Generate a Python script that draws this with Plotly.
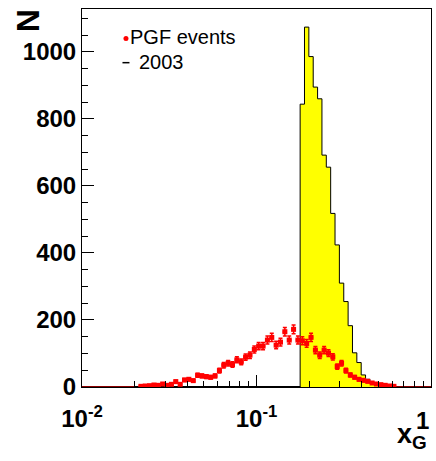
import numpy as np
import plotly.graph_objects as go

# 80 log-spaced bins from 1e-2 to 1
n_bins = 80
edges = np.logspace(-2, 0, n_bins + 1)
centers = np.sqrt(edges[:-1] * edges[1:])

# PGF events (red points), per bin
pgf_counts = [0] * 13 + [
    2, 3, 4, 6, 5, 9, 5, 8, 16, 8,
    21, 23, 19, 35, 33, 31, 29, 33, 49, 65,
    71, 67, 81, 75, 89, 95, 112, 122, 122, 140,
    148, 125, 134, 165, 140, 172, 140, 138, 130, 148,
    110, 95, 110, 101, 90, 61, 71, 49, 36, 29,
    23, 20, 17, 12, 9, 7, 5, 3, 2,
] + [0] * 8

# 2003 histogram (yellow), per bin
h2003_counts = [0] * 50 + [
    844, 1074, 986, 895, 860, 692, 656, 518, 424, 310,
    255, 183, 102, 73, 36, 23, 11, 5, 2, 1,
] + [0] * 10

pgf = np.array(pgf_counts, dtype=float)
h03 = np.array(h2003_counts, dtype=float)

fig = go.Figure()

# dark red zero line of the PGF histogram
fig.add_trace(go.Scatter(x=[edges[0], edges[-1]], y=[0, 0], mode="lines",
                         line=dict(color="#8b0000", width=2), hoverinfo="skip"))

# 2003 filled step histogram
nz = np.nonzero(h03)[0]
i0, i1 = nz[0], nz[-1] + 1
xs = np.concatenate([[edges[i0]], edges[i0:i1 + 1]])
ys = np.concatenate([[0], h03[i0:i1], [0]])
fig.add_trace(go.Scatter(x=xs, y=ys, mode="lines", line_shape="hv",
                         fill="tozeroy", fillcolor="#ffff00",
                         line=dict(color="black", width=1)))
# zero part of the 2003 histogram
fig.add_trace(go.Scatter(x=[edges[12], edges[i0]], y=[0, 0], mode="lines",
                         line=dict(color="black", width=2)))

# PGF points with error bars
m = pgf > 0
err = np.sqrt(pgf[m])
fig.add_trace(go.Scatter(
    x=centers[m], y=pgf[m], mode="markers",
    marker=dict(symbol="square", size=5, color="#ff0000"),
    error_y=dict(type="data", array=err, color="#ff0000", thickness=1.5, width=2),
    error_x=dict(type="data", symmetric=False,
                 array=edges[1:][m] - centers[m],
                 arrayminus=centers[m] - edges[:-1][m],
                 color="#ff0000", thickness=2.5, width=0),
))

tickfont = dict(family="Liberation Sans", size=24, color="black", weight="bold")
minor_x = [d * 10.0 ** p for p in (-2, -1) for d in range(2, 10)]

fig.update_xaxes(type="log", range=[-2, 0], tickvals=[0.01, 0.1, 1],
                 ticktext=["10<sup>-2</sup>", "10<sup>-1</sup>", ""],
                 ticks="inside", ticklen=12, tickcolor="black", ticklabelstandoff=10,
                 minor=dict(tickvals=minor_x, ticks="inside", ticklen=6, tickcolor="black"),
                 showgrid=False, zeroline=False, showline=True, mirror=True,
                 linecolor="black", linewidth=1, tickfont=tickfont, automargin=False)
fig.update_yaxes(range=[0, 1128], tickvals=[0, 200, 400, 600, 800, 1000],
                 ticks="inside", ticklen=12, tickcolor="black",
                 minor=dict(dtick=50, ticks="inside", ticklen=6, tickcolor="black"),
                 showgrid=False, zeroline=False, showline=True, mirror=True,
                 linecolor="black", linewidth=1, tickfont=tickfont, automargin=False)

# label "1" at the right end, pulled inside the page like in ROOT
fig.add_annotation(x=1.0, y=0, xref="paper", yref="paper", text="1",
                   showarrow=False, xanchor="right", yanchor="top", yshift=-18,
                   font=tickfont)

# legend drawn by hand, ROOT style
leg_font = dict(family="Liberation Sans", size=20, color="black")
fig.add_annotation(x=0.131, y=0.925, xref="paper", yref="paper", text="PGF events",
                   showarrow=False, xanchor="left", yanchor="middle", font=leg_font)
fig.add_annotation(x=0.157, y=0.86, xref="paper", yref="paper", text="2003",
                   showarrow=False, xanchor="left", yanchor="middle", font=leg_font)
fig.add_shape(type="circle", xref="paper", yref="paper", xsizemode="pixel", ysizemode="pixel",
              xanchor=0.126, yanchor=0.922, x0=-2.5, x1=2.5, y0=-2.5, y1=2.5,
              fillcolor="#ff0000", line=dict(width=0))
fig.add_shape(type="line", xref="paper", yref="paper", xsizemode="pixel", ysizemode="pixel",
              xanchor=0.126, yanchor=0.858, x0=-3.5, x1=3.5, y0=0, y1=0,
              line=dict(color="black", width=1.5))

# axis titles
fig.add_annotation(x=-0.211, y=1.004, xref="paper", yref="paper", text="N",
                   showarrow=False, textangle=-90,
                   font=dict(family="Liberation Sans", size=32, color="black", weight="bold"))
fig.add_annotation(x=0.995, y=-0.08, xref="paper", yref="paper", text="x<sub>G</sub>",
                   showarrow=False, xanchor="right", yanchor="top",
                   font=dict(family="Liberation Sans", size=27, color="black", weight="bold"))

fig.update_layout(width=436, height=461, showlegend=False,
                  margin=dict(l=82, r=5, t=9, b=74),
                  plot_bgcolor="white", paper_bgcolor="white")
fig.write_html("out.html", config={"displayModeBar": False},
               post_script="document.body.style.margin='0';")
